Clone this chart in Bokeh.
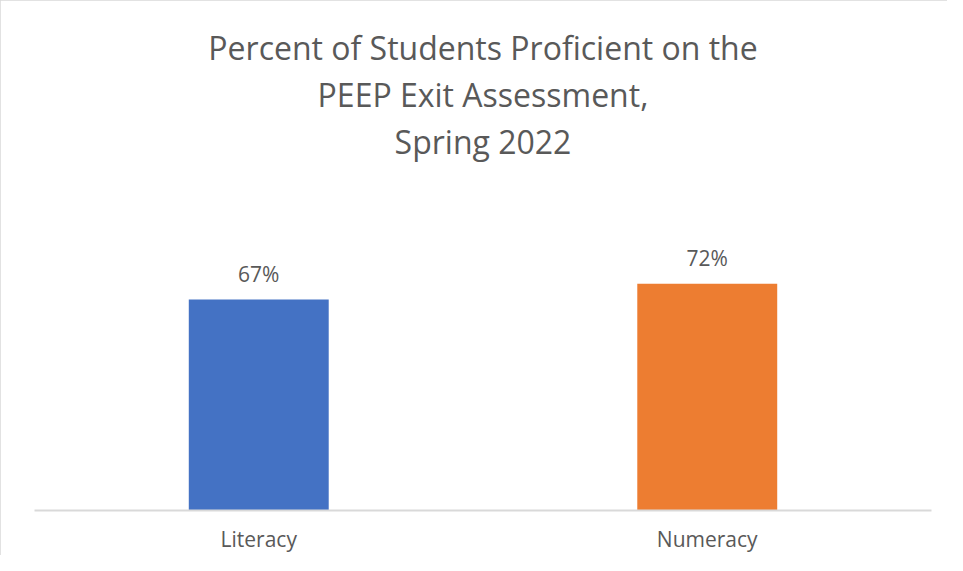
from bokeh.plotting import figure
from bokeh.models import FactorRange, Range1d, Title, ColumnDataSource, InlineStyleSheet
from bokeh.core.properties import value
from bokeh.embed import file_html
from bokeh.resources import INLINE

categories = ["Literacy", "Numeracy"]
percents = [67, 72]
labels = ["67%", "72%"]
colors = ["#4472C4", "#ED7D31"]
title_lines = ["Percent of Students Proficient on the", "PEEP Exit Assessment,", "Spring 2022"]

FONT = "Open Sans"
TXT = "#595959"

W, H = 947, 555
FRAME_TOP = 163
BASELINE = 510
PX_PER_UNIT = 211 / 67.0
y_end = (BASELINE - FRAME_TOP) / PX_PER_UNIT

src = ColumnDataSource(dict(cat=categories, val=percents, lab=labels, col=colors))

p = figure(
    x_range=FactorRange(*categories, range_padding=0),
    y_range=Range1d(0, y_end),
    width=W, height=H,
    output_backend="svg", toolbar_location=None,
    min_border_left=34, min_border_right=16, min_border_bottom=H - BASELINE, min_border_top=FRAME_TOP,
)
p.stylesheets = [InlineStyleSheet(css=":host { outline: 2px solid #d9d9d9; outline-offset: -2px; }")]

for t in reversed(title_lines):
    p.add_layout(Title(text=t, align="center", text_font=FONT, text_font_size="32px",
                       text_font_style="normal", text_color=TXT, standoff=2), "above")

p.vbar(x="cat", top="val", width=0.312, fill_color="col", line_color=None, source=src)
p.text(x="cat", y="val", text="lab", source=src, text_align="center", text_baseline="alphabetic",
       y_offset=-26, text_font=value(FONT), text_font_size="21px", text_color=TXT)

p.yaxis.visible = False
p.grid.visible = False
p.outline_line_color = None
ax = p.xaxis[0]
ax.axis_line_color = "#D9D9D9"
ax.axis_line_width = 2
ax.major_tick_line_color = None
ax.minor_tick_line_color = None
ax.major_label_standoff = 8
ax.major_label_text_font = FONT
ax.major_label_text_font_size = "21px"
ax.major_label_text_color = TXT

open("out.html", "w").write(file_html(p, INLINE))
